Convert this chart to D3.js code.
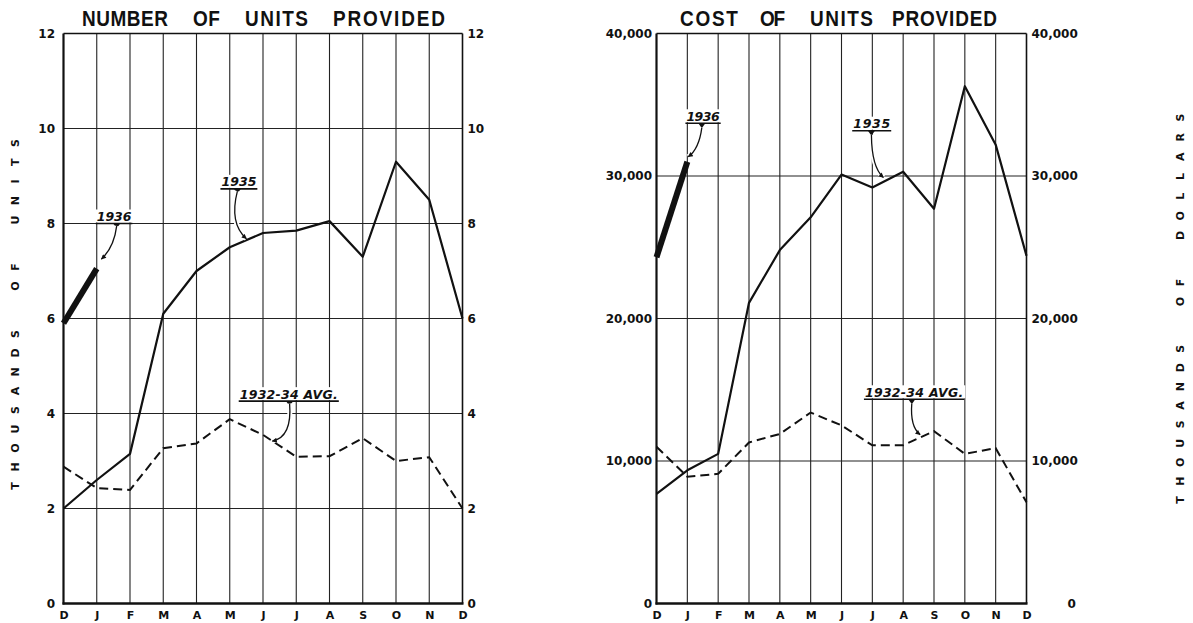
<!DOCTYPE html>
<html><head><meta charset="utf-8">
<script src="https://cdnjs.cloudflare.com/ajax/libs/d3/7.8.5/d3.min.js"></script>
<style>body{margin:0;background:#fff} svg{display:block}</style>
</head><body>
<svg id="c" width="1193" height="623"></svg>
<script>
// ---------- data ----------
const months = ["D","J","F","M","A","M","J","J","A","S","O","N","D"];
const unitsTicks = [0,2,4,6,8,10,12];
const costTicks = [0,10000,20000,30000,40000];
const units1935 = [2.0,2.6,3.15,6.1,7.0,7.5,7.8,7.85,8.05,7.3,9.3,8.5,6.0];
const units1936 = [5.9,7.05];
const unitsAvg  = [2.88,2.43,2.39,3.27,3.37,3.88,3.55,3.09,3.1,3.48,3.0,3.08,2.0];
const cost1935 = [7700,9350,10500,21100,24800,27100,30100,29200,30300,27700,36300,32200,24400];
const cost1936 = [24300,31000];
const costAvg  = [11000,8900,9100,11300,11900,13400,12500,11100,11100,12100,10500,10900,7100];
const unitsNotes = [
  {label:"1936", from:1.0, to:2.04, at:8.0, tri:1.6, lead:[[1.6,7.95],[1.52,7.5],[1.14,7.25]]},
  {label:"1935", from:4.75, to:5.8, at:8.73, tri:5.23, lead:[[5.23,8.68],[4.98,8.0],[5.5,7.68]]},
  {label:"1932-34 AVG.", from:5.3, to:8.25, at:4.26, tri:6.8, lead:[[6.8,4.21],[6.88,3.5],[6.28,3.42]]}
];
const costNotes = [
  {label:"1936", from:0.97, to:2.05, at:33700, tri:1.47, lead:[[1.47,33400],[1.38,31900],[1.03,31350]]},
  {label:"1935", from:6.38, to:7.58, at:33180, tri:6.97, lead:[[6.97,32900],[6.98,30600],[7.36,29900]]},
  {label:"1932-34 AVG.", from:6.76, to:9.95, at:14330, tri:8.28, lead:[[8.28,14050],[8.22,12400],[8.55,11850]]}
];

// ---------- drawing ----------
const svg = d3.select("#c");
const FONT = "'DejaVu Sans', Verdana, sans-serif";
const TFONT = "'Liberation Sans', Arial, sans-serif";
const INK = "#111";

const defs = svg.append("defs");
defs.append("marker").attr("id","arr").attr("viewBox","0 0 10 10")
  .attr("refX",9).attr("refY",5).attr("markerWidth",7).attr("markerHeight",5)
  .attr("markerUnits","userSpaceOnUse").attr("orient","auto")
  .append("path").attr("d","M0,0 L10,5 L0,10 z").attr("fill",INK);

function fitWords(sel, spans){
  spans.forEach(([w,a,b])=>{
    const t = sel.append("tspan").attr("x",a).text(w + " ");
    const n = w.length;
    const tmp = svg.append("text").attr("font-family",sel.attr("font-family"))
      .attr("font-size",sel.attr("font-size")).attr("font-weight",sel.attr("font-weight")).text(w);
    const nat = tmp.node().getComputedTextLength();
    tmp.remove();
    const ls = n>1 ? (b-a-nat)/(n-1) : 0;
    t.attr("letter-spacing", ls);
  });
}

function chart(cfg){
  const x = d3.scaleLinear().domain([0,12]).range([cfg.x0,cfg.x1]);
  const y = d3.scaleLinear().domain([0,cfg.max]).range([cfg.y1,cfg.y0]);
  const g = svg.append("g");

  // grid
  g.append("g").selectAll("line").data(d3.range(1,12)).join("line")
    .attr("x1",d=>x(d)).attr("x2",d=>x(d)).attr("y1",cfg.y0).attr("y2",cfg.y1)
    .attr("stroke","#222").attr("stroke-width",1.1);
  g.append("g").selectAll("line").data(cfg.ticks.slice(1,-1)).join("line")
    .attr("x1",cfg.x0).attr("x2",cfg.x1).attr("y1",d=>y(d)).attr("y2",d=>y(d))
    .attr("stroke","#222").attr("stroke-width",1.1);
  // frame
  const fr = g.append("g").attr("stroke",INK).attr("fill","none");
  fr.append("line").attr("x1",cfg.x0).attr("x2",cfg.x1).attr("y1",cfg.y0).attr("y2",cfg.y0).attr("stroke-width",1.6);
  fr.append("line").attr("x1",cfg.x1).attr("x2",cfg.x1).attr("y1",cfg.y0).attr("y2",cfg.y1).attr("stroke-width",1.6);
  fr.append("line").attr("x1",cfg.x0).attr("x2",cfg.x0).attr("y1",cfg.y0).attr("y2",cfg.y1+1).attr("stroke-width",2.2);
  fr.append("line").attr("x1",cfg.x0-1).attr("x2",cfg.x1+1).attr("y1",cfg.y1).attr("y2",cfg.y1).attr("stroke-width",2.4);

  // axes
  const styleAxis = a => { a.select(".domain").remove();
    a.attr("font-family",FONT).attr("font-size",12).attr("font-weight","bold");
    a.selectAll("text").attr("fill",INK); };
  g.append("g").attr("transform",`translate(${cfg.x0},0)`)
    .call(d3.axisLeft(y).tickValues(cfg.ticks).tickFormat(cfg.fmt).tickSize(0).tickPadding(cfg.padL))
    .call(styleAxis);
  const ar = g.append("g").attr("transform",`translate(${cfg.x1},0)`)
    .call(d3.axisRight(y).tickValues(cfg.ticks).tickFormat(cfg.fmt).tickSize(0).tickPadding(cfg.padR))
    .call(styleAxis);
  if (cfg.zeroShift) {
    ar.selectAll(".tick").each(function(d){
      if (+d === 0) d3.select(this).select("text").attr("x", cfg.padR + cfg.zeroShift);
    });
  }
  g.append("g").attr("transform",`translate(0,${cfg.y1})`)
    .call(d3.axisBottom(x).tickValues(d3.range(13)).tickFormat(i=>months[i]).tickSize(0).tickPadding(8))
    .call(a=>{styleAxis(a); a.attr("font-size",11);});

  // series
  const line = d3.line().x((d,i)=>x(i)).y(d=>y(d));
  g.append("path").datum(cfg.avg).attr("d",line).attr("fill","none")
    .attr("stroke",INK).attr("stroke-width",2).attr("stroke-dasharray","9,5");
  g.append("path").datum(cfg.s35).attr("d",line).attr("fill","none")
    .attr("stroke",INK).attr("stroke-width",2.2).attr("stroke-linejoin","round");
  g.append("path").datum(cfg.s36).attr("d",line).attr("fill","none")
    .attr("stroke",INK).attr("stroke-width",6);

  // annotations
  cfg.notes.forEach(n=>{
    const ax = x(n.from), bx = x(n.to), uy = y(n.at);
    g.append("rect").attr("x",ax-2).attr("y",uy-14).attr("width",bx-ax+4).attr("height",13).attr("fill","#fff");
    g.append("text").attr("x",ax).attr("y",uy-2.5)
      .attr("font-family",FONT).attr("font-size",12.5).attr("font-weight","bold").attr("font-style","italic")
      .attr("textLength",bx-ax).attr("lengthAdjust","spacing").attr("fill",INK).text(n.label);
    g.append("line").attr("x1",ax-1).attr("x2",bx+1).attr("y1",uy).attr("y2",uy)
      .attr("stroke",INK).attr("stroke-width",1.6);
    const tx = x(n.tri);
    g.append("path").attr("d",`M${tx-3.5},${uy} L${tx+3.5},${uy} L${tx},${uy+5} Z`).attr("fill",INK);
    const p = n.lead.map(([i,v])=>[x(i),y(v)]);
    const d = `M${p[0][0]},${p[0][1]} Q${p[1][0]},${p[1][1]} ${p[2][0]},${p[2][1]}`;
    g.append("path").attr("d",d).attr("fill","none").attr("stroke","#fff").attr("stroke-width",5);
    g.append("path").attr("d",d).attr("fill","none").attr("stroke",INK).attr("stroke-width",1.3)
      .attr("marker-end","url(#arr)");
  });

  // title (slightly tall lettering)
  const tt = g.append("text").attr("transform","translate(0,26) scale(1,1.15)").attr("y",0)
    .attr("font-family",TFONT).attr("font-size",19).attr("font-weight","bold").attr("fill",INK);
  fitWords(tt, cfg.titleWords);

  // vertical axis title (letters individually placed)
  g.append("text").attr("transform","rotate(-90)")
    .attr("x", cfg.axisY.map(v=>-v).join(" "))
    .attr("y", cfg.axisX).attr("text-anchor","middle").attr("dominant-baseline","central")
    .attr("font-family",FONT).attr("font-size",11).attr("font-weight","bold").attr("fill",INK)
    .text(cfg.axisTitle);
}

chart({x0:63.5,x1:462.5,y0:33.5,y1:603.5,max:12,ticks:unitsTicks,fmt:d3.format("d"),
  padL:8.5,padR:5,avg:unitsAvg,s35:units1935,s36:units1936,notes:unitsNotes,
  titleWords:[["NUMBER",82,168],["OF",193,220],["UNITS",245,308],["PROVIDED",333,445]],
  axisTitle:"THOUSANDS OF UNITS", axisX:15,
  axisY:[486,467,448,429,410,391,372,353,334,310,286,267,243,220,200.75,181.5,162.25,143]});

chart({x0:656.5,x1:1026.5,y0:33.5,y1:603.5,max:40000,ticks:costTicks,fmt:d3.format(","),
  padL:4.5,padR:5,zeroShift:36,avg:costAvg,s35:cost1935,s36:cost1936,notes:costNotes,
  titleWords:[["COST",680,738],["OF",760,785],["UNITS",810,873],["PROVIDED",892,997]],
  axisTitle:"THOUSANDS OF DOLLARS", axisX:1180,
  axisY:[500,481.1,462.2,443.3,424.4,405.5,386.6,367.7,348.8,325,301.5,282.5,258,235.5,215.8,196.2,176.5,156.8,137.2,117.5]});
</script>
</body></html>
